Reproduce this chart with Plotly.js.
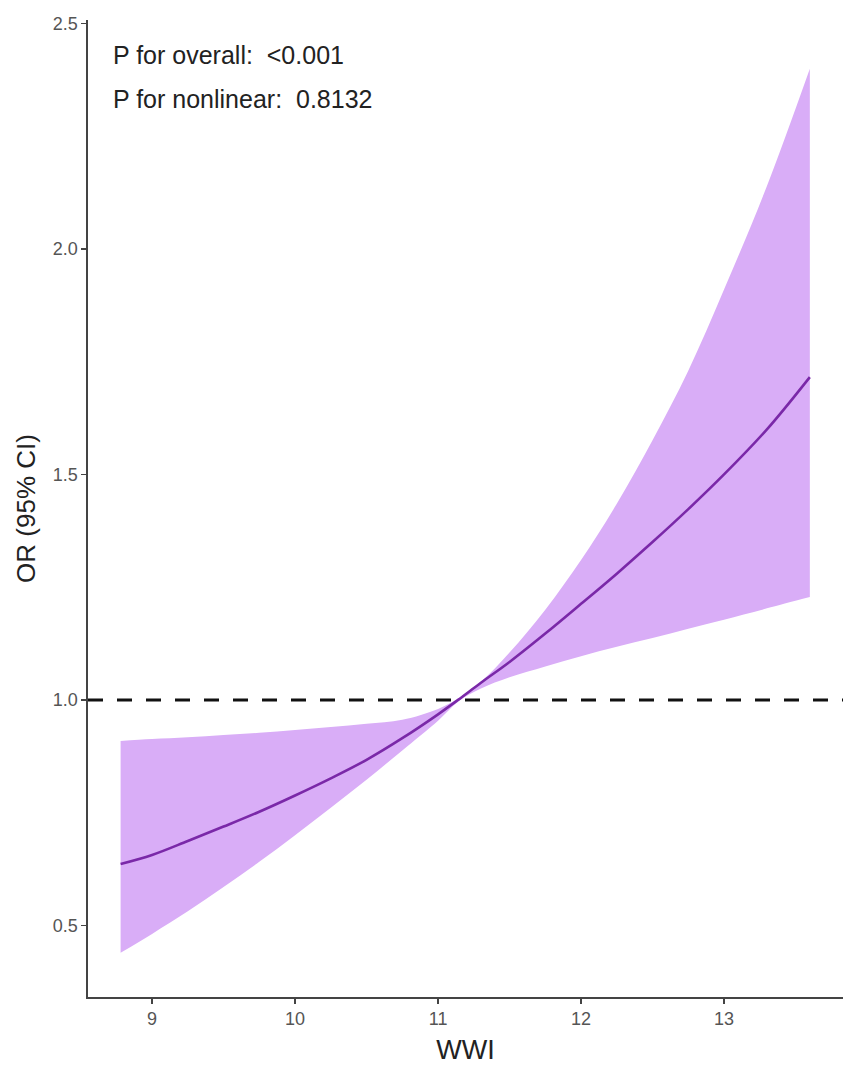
<!DOCTYPE html>
<html>
<head>
<meta charset="utf-8">
<script src="https://cdn.plot.ly/plotly-3.0.1.min.js"></script>
<style>
  html, body { margin: 0; padding: 0; background: #fff; }
  #plot { width: 850px; height: 1078px; }
</style>
</head>
<body>
<div id="plot"></div>
<script>
// values
var wwi     = [8.78, 9.0, 9.25, 9.5, 9.75, 10.0, 10.25, 10.5, 10.75, 11.0, 11.14, 11.3, 11.5, 11.75, 12.0, 12.25, 12.5, 12.75, 13.0, 13.3, 13.6];
var orValue = [0.636, 0.656, 0.687, 0.719, 0.752, 0.788, 0.826, 0.867, 0.915, 0.968, 1.0, 1.038, 1.084, 1.147, 1.213, 1.28, 1.35, 1.423, 1.50, 1.60, 1.716];
var orLower = [0.439, 0.481, 0.531, 0.585, 0.641, 0.70, 0.761, 0.823, 0.888, 0.954, 0.996, 1.025, 1.05, 1.074, 1.097, 1.118, 1.137, 1.158, 1.178, 1.203, 1.228];
var orUpper = [0.909, 0.913, 0.917, 0.922, 0.927, 0.933, 0.940, 0.947, 0.956, 0.98, 1.003, 1.04, 1.105, 1.20, 1.31, 1.435, 1.576, 1.73, 1.91, 2.14, 2.40];
var refOR = 1.0;
var pLabels = ['P for overall:  <0.001', 'P for nonlinear:  0.8132'];

var font = 'Liberation Sans, Arial, sans-serif';
var bandColor = '#d9adf7';

var traces = [
    {
        // lower CI edge, the band is filled up to it from the upper edge
        x: wwi,
        y: orLower,
        type: 'scatter',
        mode: 'lines',
        line: { width: 0, color: bandColor, shape: 'spline' },
        hoverinfo: 'skip',
        showlegend: false
    },
    {
        x: wwi,
        y: orUpper,
        type: 'scatter',
        mode: 'lines',
        fill: 'tonexty',
        fillcolor: bandColor,
        line: { width: 0, color: bandColor, shape: 'spline' },
        hoverinfo: 'skip',
        showlegend: false
    },
    {
        x: wwi,
        y: orValue,
        type: 'scatter',
        mode: 'lines',
        line: { color: '#7a28a8', width: 2.6, shape: 'spline' },
        showlegend: false
    }
];

var axisCommon = {
    showline: true,
    linecolor: '#444',
    linewidth: 1.6,
    ticks: 'outside',
    ticklen: 5,
    tickwidth: 1.3,
    tickcolor: '#444',
    showgrid: false,
    zeroline: false,
    tickfont: { family: font, size: 18, color: '#555' }
};

var layout = {
    width: 850,
    height: 1078,
    margin: { l: 88, r: 7, t: 20, b: 81 },
    paper_bgcolor: '#fff',
    plot_bgcolor: '#fff',
    font: { family: font },
    xaxis: Object.assign({}, axisCommon, {
        range: [8.552, 13.832],
        tickvals: [9, 10, 11, 12, 13],
        title: { text: 'WWI', font: { family: font, size: 27, color: '#222' }, standoff: 12 }
    }),
    yaxis: Object.assign({}, axisCommon, {
        range: [0.341, 2.508],
        tickvals: [0.5, 1.0, 1.5, 2.0, 2.5],
        tickformat: '.1f',
        title: { text: 'OR (95% CI)', font: { family: font, size: 26, color: '#222' }, standoff: 9 }
    }),
    shapes: [{
        type: 'line',
        xref: 'paper', x0: 0, x1: 1,
        yref: 'y', y0: refOR, y1: refOR,
        line: { color: '#111', width: 3, dash: '15px,14px' }
    }],
    annotations: pLabels.map(function (txt, i) {
        return {
            text: txt,
            xref: 'paper', yref: 'paper',
            x: 0.031, y: i === 0 ? 0.964 : 0.919,
            xanchor: 'left', yanchor: 'middle',
            showarrow: false,
            font: { family: font, size: 25, color: '#222' }
        };
    })
};

Plotly.newPlot('plot', traces, layout, { displayModeBar: false, staticPlot: true });
</script>
</body>
</html>
